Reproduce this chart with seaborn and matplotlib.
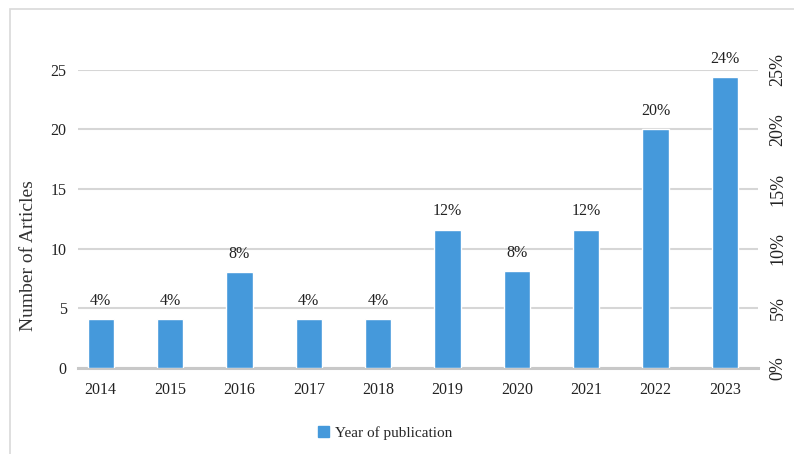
import matplotlib
matplotlib.use("Agg")
import matplotlib.pyplot as plt
from matplotlib.patches import Rectangle
from matplotlib.ticker import FuncFormatter
import seaborn as sns
import pandas as pd

# Données
annees = ['2014', '2015', '2016', '2017', '2018', '2019', '2020', '2021', '2022', '2023']
nb_articles = [4.1, 4.1, 8.0, 4.1, 4.1, 11.6, 8.1, 11.6, 20.0, 24.4]
pourcentages = ['4%', '4%', '8%', '4%', '4%', '12%', '8%', '12%', '20%', '24%']
ticks_gauche = [0, 5, 10, 15, 20, 25]

sns.set_style("white")
plt.rcParams['font.family'] = ['Liberation Serif', 'DejaVu Serif']

df = pd.DataFrame({'Année': annees, 'Articles': nb_articles})

fig = plt.figure(figsize=(7.94, 4.54), dpi=100)
ax = fig.add_axes([0.098, 0.19, 0.857, 0.656])

sns.barplot(data=df, x='Année', y='Articles', color='#4599db', width=0.38,
            saturation=1, ax=ax, zorder=3)

# étiquettes au-dessus des barres
for i, (v, p) in enumerate(zip(nb_articles, pourcentages)):
    ax.text(i, v + 0.85, p, ha='center', va='bottom', fontsize=11.5, color='#222222')

ax.set_ylim(0, 25)
ax.set_xlim(-0.33, 9.48)
ax.set_yticks(ticks_gauche)
ax.yaxis.grid(True, color='#d6d6d6', linewidth=1.5, zorder=0)
for s in ['top', 'right', 'left']:
    ax.spines[s].set_visible(False)
ax.spines['bottom'].set_color('#c8c8c8')
ax.spines['bottom'].set_linewidth(2.2)
ax.tick_params(axis='both', length=0, labelsize=11.5, colors='#222222')
ax.tick_params(axis='x', pad=10)
ax.tick_params(axis='y', pad=8)
ax.set_xlabel('')
ax.set_ylabel('Number of Articles', fontsize=14, color='#333333')
ax.yaxis.set_label_coords(-0.06, 0.375)

# axe de droite en pourcentage
ax2 = ax.twinx()
ax2.set_ylim(0, 25)
ax2.set_yticks(ticks_gauche)
ax2.yaxis.set_major_formatter(FuncFormatter(lambda y, _: f"{y:.0f}%"))
for s in ['top', 'right', 'left', 'bottom']:
    ax2.spines[s].set_visible(False)
ax2.tick_params(axis='y', length=0, labelsize=13, colors='#222222', pad=8)
for lab in ax2.get_yticklabels():
    lab.set_rotation(90)
    lab.set_va('center')

# légende en bas
poignee = Rectangle((0, 0), 1, 1, color='#4599db')
fig.legend([poignee], ['Year of publication'], loc='center', bbox_to_anchor=(0.485, 0.047),
           frameon=False, fontsize=11, handlelength=0.7, handleheight=0.7, handletextpad=0.4)

# cadre de la figure
cadre = Rectangle((0.013, -0.1), 1.1, 1.08, fill=False, edgecolor='#d9d9d9',
                  linewidth=1.2, transform=fig.transFigure, figure=fig)
fig.patches.append(cadre)

fig.savefig('out.png', dpi=100)
